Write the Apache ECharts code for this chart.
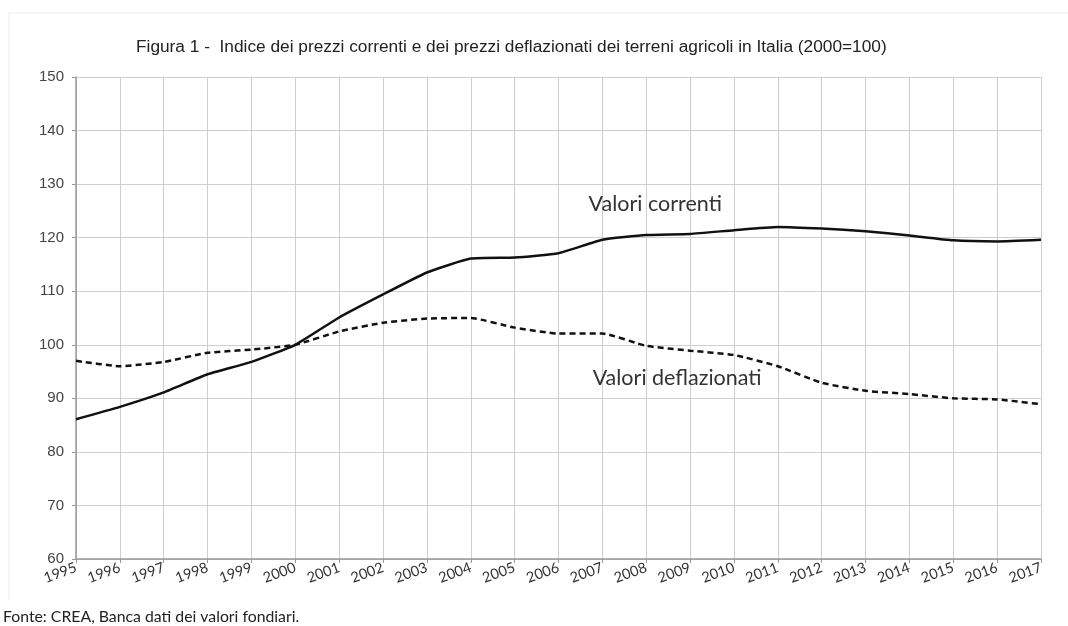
<!DOCTYPE html>
<html>
<head>
<meta charset="utf-8">
<script src="https://cdn.jsdelivr.net/npm/echarts@6/dist/echarts.min.js"></script>
<style>
  html, body { margin: 0; padding: 0; background: #fff; }
  #main { width: 1068px; height: 626px; }
</style>
</head>
<body>
<div id="main"></div>
<script>
// anni e indici (2000=100)
var years = ['1995', '1996', '1997', '1998', '1999', '2000', '2001', '2002', '2003', '2004', '2005',
  '2006', '2007', '2008', '2009', '2010', '2011', '2012', '2013', '2014', '2015', '2016', '2017'];
var correnti = [86.1, 88.4, 91.1, 94.5, 96.8, 100, 105.1, 109.4, 113.5, 116.1, 116.3,
  117.1, 119.6, 120.5, 120.7, 121.4, 122.0, 121.7, 121.2, 120.4, 119.5, 119.3, 119.6];
var deflazionati = [97.0, 96.0, 96.8, 98.5, 99.1, 100, 102.5, 104.1, 104.9, 105.0, 103.2,
  102.1, 102.1, 99.8, 98.9, 98.1, 96.0, 92.9, 91.4, 90.8, 90.0, 89.8, 88.9];
var yMin = 60, yMax = 150, yStep = 10;

var chart = echarts.init(document.getElementById('main'));

var labelStyle = { show: true, position: 'inside', fontFamily: 'Lato', fontSize: 21.5, color: '#333' };

chart.setOption({
  animation: false,
  title: {
    text: 'Figura 1 -  Indice dei prezzi correnti e dei prezzi deflazionati dei terreni agricoli in Italia (2000=100)',
    left: 131,
    top: 34,
    textStyle: { fontFamily: 'Liberation Sans', fontSize: 17.3, fontWeight: 'normal', color: '#222' }
  },
  grid: { left: 76, right: 27, top: 77, bottom: 67 },
  graphic: [
    { type: 'line', shape: { x1: 9, y1: 13, x2: 1068, y2: 13 }, style: { stroke: '#eeeeee', lineWidth: 1 } },
    { type: 'line', shape: { x1: 9, y1: 13, x2: 9, y2: 600 }, style: { stroke: '#eeeeee', lineWidth: 1 } },
    {
      type: 'text', left: 3, top: 609,
      style: { text: 'Fonte: CREA, Banca dati dei valori fondiari.', font: '15.8px Lato', fill: '#222' }
    }
  ],
  xAxis: {
    type: 'category',
    data: years,
    boundaryGap: false,
    axisLine: { lineStyle: { color: '#999', width: 1.5 } },
    axisTick: { show: true, length: 4, lineStyle: { color: '#999' } },
    splitLine: { show: true, lineStyle: { color: '#cfcfcf', width: 1 } },
    axisLabel: {
      rotate: 20,
      margin: 8,
      interval: 0,
      color: '#333',
      fontFamily: 'Lato',
      fontSize: 14.5
    }
  },
  yAxis: {
    type: 'value',
    min: yMin,
    max: yMax,
    interval: yStep,
    axisLine: { show: true, lineStyle: { color: '#999', width: 1.5 } },
    axisTick: { show: true, length: 4, lineStyle: { color: '#999' } },
    splitLine: { show: true, lineStyle: { color: '#cfcfcf', width: 1 } },
    axisLabel: {
      margin: 12,
      color: '#444',
      fontFamily: 'Liberation Sans',
      fontSize: 15
    }
  },
  series: [{
    type: 'line',
    name: 'Valori correnti',
    data: correnti,
    symbol: 'none',
    smooth: 0.15,
    lineStyle: { color: '#111', width: 2.5 },
    markPoint: {
      symbol: 'circle',
      symbolSize: 0,
      data: [{ coord: ['2008', 126.3] }],
      label: Object.assign({ formatter: 'Valori correnti', offset: [9, 0] }, labelStyle)
    }
  }, {
    type: 'line',
    name: 'Valori deflazionati',
    data: deflazionati,
    symbol: 'none',
    smooth: 0.15,
    lineStyle: { color: '#111', width: 2.5, type: [6, 4] },
    markPoint: {
      symbol: 'circle',
      symbolSize: 0,
      data: [{ coord: ['2009', 93.85] }],
      label: Object.assign({ formatter: 'Valori deflazionati', offset: [-13, 0] }, labelStyle)
    }
  }]
});
</script>
</body>
</html>
